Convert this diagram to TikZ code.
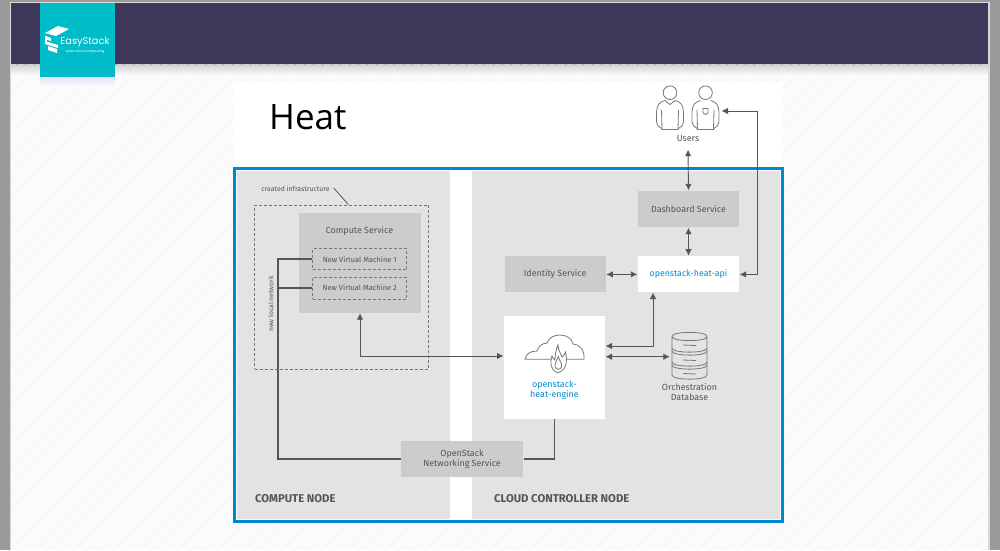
\documentclass[tikz,border=0pt]{standalone}
\usepackage{xcolor}
\usepackage{fontspec}
\setmainfont{Fira Sans}
\newfontfamily\heatfont{Open Sans}
\newfontfamily\logofont{Poppins}
\usetikzlibrary{arrows.meta,positioning,calc}
\definecolor{outergray}{HTML}{9A9A9A}
\definecolor{pageedge}{HTML}{D8D8D8}
\definecolor{pagebg}{HTML}{FBFBFB}
\definecolor{pagehatch}{HTML}{F4F4F4}
\definecolor{headerbg}{HTML}{3D3659}
\definecolor{headerhatch}{HTML}{423B60}
\definecolor{logobg}{HTML}{00BCC9}
\definecolor{framecol}{HTML}{0088CE}
\definecolor{panelcol}{HTML}{E3E3E3}
\definecolor{servicecol}{HTML}{CCCCCC}
\definecolor{inkcol}{HTML}{555555}
\definecolor{apicol}{HTML}{0088CE}

\begin{document}
\begin{tikzpicture}[
        x=1pt, y=-1pt,
        >={Latex[length=6.5pt,width=6.5pt]},
        service/.style={rectangle, fill=servicecol, text=inkcol, align=center, inner sep=0pt, minimum width=101pt, minimum height=36pt, font=\fontsize{8.9}{10}\selectfont},
        heatbox/.style={rectangle, fill=white, text=apicol, align=center, inner sep=0pt, font=\fontsize{8.8}{10}\selectfont},
        vmbox/.style={rectangle, draw=inkcol!80, densely dashed, line width=0.6pt, text=inkcol, inner sep=0pt, minimum width=94pt, font=\fontsize{7.4}{9}\selectfont},
        plainlabel/.style={text=inkcol, align=center, inner sep=0pt, font=\fontsize{8.9}{10}\selectfont},
        nodelabel/.style={text=inkcol, anchor=west, inner sep=0pt, font=\fontsize{11.3}{13}\selectfont\bfseries},
        arrow/.style={<->, draw=inkcol, line width=0.9pt, shorten <=0.5pt, shorten >=0.5pt},
        netline/.style={draw=inkcol, line width=1.8pt},
        iconline/.style={draw=inkcol!80, line width=0.8pt, fill=white},
        dbline/.style={draw=inkcol!80, line width=0.8pt}
    ]
        \useasboundingbox (0,0) rectangle (1000,550);
        \fill[outergray] (0,0) rectangle (1000,550);
        \fill[pageedge] (10,2) rectangle (989.5,550);
        \fill[pagebg] (11,3) rectangle (988,550);
        \begin{scope}
            \clip (11,64) rectangle (988,550);
            \foreach \hx in {0,13,...,1600} \draw[pagehatch, line width=0.7pt] (\hx,0) -- (\hx-600,600);
        \end{scope}
        \fill[headerbg] (11,3) rectangle (988,64);
        \begin{scope}
            \clip (11,3) rectangle (988,64);
            \foreach \hx in {0,9,...,1100} \draw[headerhatch, line width=0.7pt] (\hx,0) -- (\hx-80,80);
        \end{scope}
        \shade[top color=black!25, bottom color=pagebg, opacity=0.7] (11,64) rectangle (988,75);
        \shade[top color=blue!20, bottom color=pagebg, opacity=0.5] (40,77) rectangle (115,86);

        \fill[white] (233,82) rectangle (783,522);
        \node[anchor=west, inner sep=0pt, font=\fontsize{35}{40}\selectfont\heatfont] (title) at (269,117) {Heat};

        \fill[panelcol] (237,171) rectangle (450,519);
        \fill[panelcol] (472,171) rectangle (780,519);
        \draw[framecol, line width=3pt] (234.7,168.3) rectangle (782.3,521.5);

        \node[rectangle, fill=logobg, minimum width=75pt, minimum height=74pt, inner sep=0pt] (logo) at (77.5,40) {};
        \fill[white] (45,33) -- (58,26) -- (69,29) -- (56,36) -- cycle;
        \fill[white] (45,36) -- (51,38) -- (51,41) -- (45,39) -- cycle;
        \fill[white] (45,41) -- (58,45) -- (58,48) -- (45,44) -- cycle;
        \fill[white] (45,36) -- (47,36) -- (47,44) -- (45,44) -- cycle;
        \fill[white] (48,46) -- (57,49) -- (57,53) -- (48,50) -- cycle;
        \node[text=white, inner sep=0pt, font=\fontsize{9.8}{12}\selectfont\logofont] (logotext) at (85,42) {EasyStack};
        \node[text=white, inner sep=0pt, font=\fontsize{3.4}{4}\selectfont\logofont] (logosub) at (85,52) {open cloud computing};

        \node[plainlabel, minimum height=21pt, minimum width=30pt] (users) at (688,138.5) {Users};
        \coordinate (userright) at (721,111);
        \foreach \ux in {670,705.5} {
            \draw[iconline] (\ux,92.7) circle (6.8);
            \draw[iconline] (\ux-5,100.5) .. controls (\ux-11,102) and (\ux-13,105) .. (\ux-13.5,112) -- (\ux-13.5,122) .. controls (\ux-13.5,125) and (\ux-11,127) .. (\ux-9,128) -- (\ux-8,129.5) -- (\ux+8,129.5) -- (\ux+9,128) .. controls (\ux+11,127) and (\ux+13.5,125) .. (\ux+13.5,122) -- (\ux+13.5,112) .. controls (\ux+13,105) and (\ux+11,102) .. (\ux+5,100.5);
            \draw[iconline, fill=none] (\ux-8.5,110) -- (\ux-8,129.5) (\ux+8.5,110) -- (\ux+8,129.5);
        }
        \draw[iconline] (665,100.5) -- (670,104.5) -- (675,100.5);
        \draw[iconline] (703,108.5) -- (708,108.5) -- (708,113) -- (705.5,114.5) -- (703,113) -- cycle;

        \node[service, minimum width=101pt] (dashboard) at (688.5,209) {Dashboard Service};
        \node[heatbox, minimum width=101pt, minimum height=36pt, below=29pt of dashboard] (api) {openstack-heat-api};
        \node[service, left=32pt of api] (identity) {Identity Service};
        \node[heatbox, minimum width=101pt, minimum height=103pt] (engine) at (554.5,367.5) {};
        \node[text=apicol, align=center, inner sep=0pt, font=\fontsize{8.9}{10}\selectfont] (enginetext) at (554.5,390) {openstack-\\heat-engine};

        \draw[iconline] (525,359.3) .. controls (526,354) and (530,351) .. (537,351) .. controls (538,347) and (542,343) .. (547,343) .. controls (549,337) and (555,335) .. (560,335) .. controls (567,335) and (572,339) .. (573,344) .. controls (579,344) and (585,350) .. (584,359.3) -- cycle;
        \draw[iconline] (558,372.7) .. controls (550.5,371) and (549.5,362) .. (552,356) .. controls (553,358) and (554,360) .. (555,360) .. controls (555,355) and (556,349) .. (558,345) .. controls (558,350) and (561,354) .. (562,357) .. controls (563,356) and (565,355) .. (565.5,352) .. controls (567,358) and (568,370) .. (558,372.7) -- cycle;
        \draw[iconline, fill=none] (558.5,356) .. controls (558,360) and (563,363) .. (561.5,367) .. controls (560.5,370) and (556,370) .. (555,366.5) .. controls (554.5,364) and (557,360) .. (558.5,356);

        \node[minimum width=38pt, minimum height=47pt, inner sep=0pt] (db) at (689.5,356.7) {};
        \draw[dbline] (672,336.5) -- (672,375) .. controls (672,380.5) and (707,380.5) .. (707,375) -- (707,336.5) .. controls (707,331) and (672,331) .. (672,336.5) .. controls (672,342) and (707,342) .. (707,336.5);
        \draw[dbline] (672,348) .. controls (672,353.5) and (707,353.5) .. (707,348);
        \draw[dbline] (672,351) .. controls (672,356.5) and (707,356.5) .. (707,351);
        \draw[dbline] (672,362) .. controls (672,367.5) and (707,367.5) .. (707,362);
        \draw[dbline] (672,365) .. controls (672,370.5) and (707,370.5) .. (707,365);
        \draw[dbline] (683,345) -- (696,345.5) (683,360) -- (696,360.5) (683,373.5) -- (696,374);
        \node[plainlabel, anchor=north, below=0pt of db, yshift=-2.5pt] (dblabel) {Orchestration\\Database};

        \node[rectangle, draw=inkcol!80, densely dashed, line width=0.6pt, minimum width=174pt, minimum height=164pt, inner sep=0pt] (infra) at (341.7,287) {};
        \node[text=inkcol, inner sep=0pt, font=\fontsize{6.9}{8}\selectfont] (infralabel) at (295.5,189) {created infrastructure};
        \draw[inkcol, line width=0.8pt] (infralabel.east) ++(4,-1) coordinate (leaderstart) -- (348.3,204.5);
        \node[text=inkcol, inner sep=0pt, rotate=90, font=\fontsize{6.7}{8}\selectfont] (netlabel) at (271,304) {new local network};

        \node[rectangle, fill=servicecol, minimum width=122pt, minimum height=100pt, inner sep=0pt] (compute) at (360,262.5) {};
        \node[plainlabel] (computelabel) at (359.5,230.5) {Compute Service};
        \node[vmbox, minimum height=21pt] (vmone) at (359.7,259.2) {New Virtual Machine 1};
        \node[vmbox, minimum height=21.5pt, below=7pt of vmone] (vmtwo) {New Virtual Machine 2};

        \node[service, minimum width=122.6pt] (network) at (462,458.7) {OpenStack\\Networking Service};
        \coordinate (netcorner) at (278.3,458.7);
        \draw[netline] (vmone.west) -- (vmone.west -| netcorner) -- (netcorner) -- (network.west);
        \draw[netline] (vmtwo.west) -- (vmtwo.west -| netcorner);
        \draw[netline] (network.east) -| (engine.south);

        \coordinate (enginein) at (504,356);
        \coordinate (enginetop) at (605,346);
        \coordinate (enginedb) at (605,356.7);
        \coordinate (apifoot) at (653,292);
        \coordinate (userbend) at (757.7,111);
        \draw[arrow] (users.south) -- (dashboard.north);
        \draw[arrow] (dashboard.south) -- (api.north);
        \draw[arrow] (identity.east) -- (api.west);
        \draw[arrow] (userright) -- (userbend) |- (api.east);
        \draw[arrow] (apifoot) |- (enginetop);
        \draw[arrow] (enginedb) -- (db.west);
        \draw[arrow] (compute.south) |- (enginein);

        \node[nodelabel] (computenode) at (255,499) {COMPUTE NODE};
        \node[nodelabel] (controllernode) at (494,499) {CLOUD CONTROLLER NODE};
\end{tikzpicture}
\end{document}
